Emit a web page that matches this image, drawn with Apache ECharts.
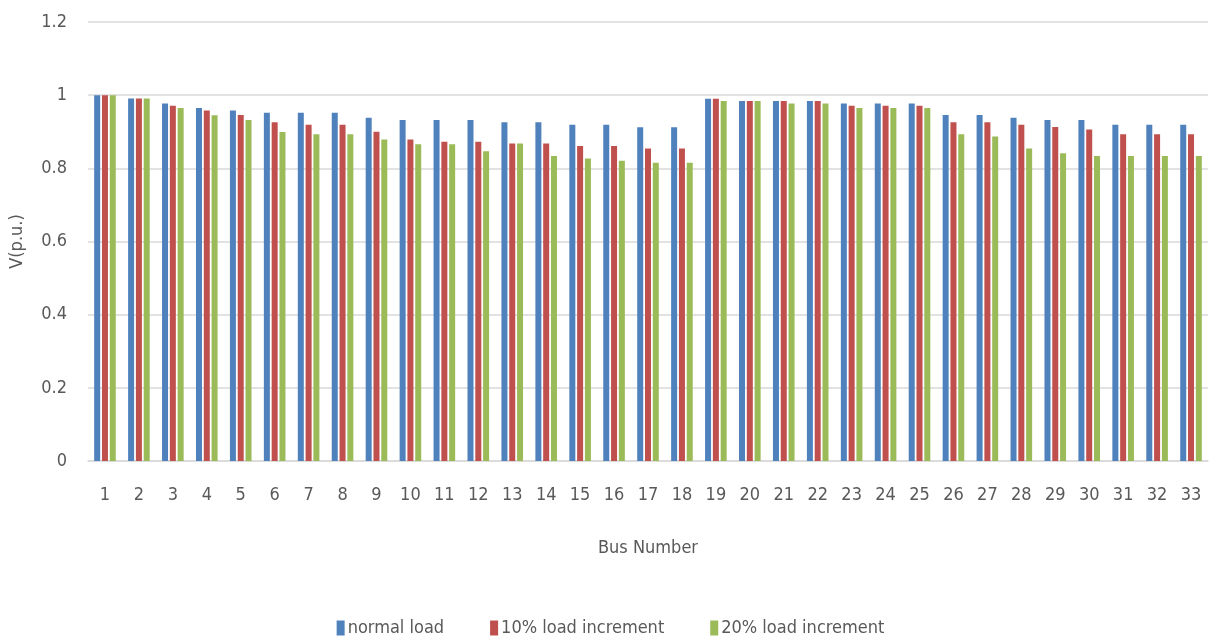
<!DOCTYPE html>
<html><head><meta charset="utf-8">
<script src="https://cdn.jsdelivr.net/npm/echarts@6/dist/echarts.min.js"></script>
<style>html,body{margin:0;padding:0;background:#fff}#c{width:1221px;height:644px}</style>
</head><body><div id="c"></div>
<script>
const categories = ['1','2','3','4','5','6','7','8','9','10','11','12','13','14','15','16','17','18','19','20','21','22','23','24','25','26','27','28','29','30','31','32','33'];
const normalLoad = [1.000,0.991,0.977,0.965,0.958,0.952,0.952,0.952,0.938,0.932,0.932,0.932,0.926,0.926,0.919,0.919,0.912,0.912,0.990,0.984,0.984,0.984,0.977,0.977,0.977,0.946,0.946,0.938,0.932,0.932,0.919,0.919,0.919];
const load10 = [1.000,0.991,0.971,0.958,0.946,0.926,0.919,0.919,0.900,0.879,0.873,0.873,0.868,0.868,0.861,0.861,0.854,0.854,0.990,0.984,0.984,0.984,0.971,0.971,0.971,0.926,0.926,0.919,0.913,0.906,0.893,0.893,0.893];
const load20 = [1.000,0.991,0.965,0.945,0.932,0.899,0.893,0.893,0.879,0.866,0.866,0.847,0.868,0.834,0.827,0.821,0.815,0.815,0.984,0.984,0.977,0.977,0.965,0.965,0.965,0.893,0.887,0.854,0.841,0.834,0.834,0.834,0.834];
const seriesNames = ['normal load','10% load increment','20% load increment'];
const yTicks = [0,0.2,0.4,0.6,0.8,1,1.2];

const font = "'Liberation Sans Narrow','DejaVu Sans Condensed','Open Sans',sans-serif";
const colors = ['#4f81bd','#c0504d','#9bbb59'];
const chart = echarts.init(document.getElementById('c'));
const mk = (name, data, i) => ({
  name, type:'bar', data, barWidth:6, barGap:'30%',
  itemStyle:{color:colors[i]}
});
chart.setOption({
  animation:false,
  textStyle:{fontFamily:font},
  grid:{left:86,right:13,top:22,bottom:183,containLabel:false},
  legend:{
    bottom:2, left:'center', itemWidth:8, itemHeight:15, itemGap:46,
    icon:'rect',
    textStyle:{fontFamily:font,fontSize:18,color:'#595959',padding:[0,0,0,-2]},
    data:seriesNames
  },
  xAxis:{
    type:'category', data:categories,
    name:'Bus Number', nameLocation:'middle', nameGap:78,
    nameTextStyle:{fontFamily:font,fontSize:18,color:'#595959'},
    axisLine:{lineStyle:{color:'#d9d9d9',width:1.5}},
    axisTick:{show:false},
    axisLabel:{fontFamily:font,fontSize:18,color:'#595959',margin:25,interval:0}
  },
  yAxis:{
    type:'value', min:0, max:1.2, interval:0.2,
    name:'V(p.u.)', nameLocation:'middle', nameGap:62, nameRotate:90,
    nameTextStyle:{fontFamily:font,fontSize:18,color:'#595959'},
    axisLine:{show:false}, axisTick:{show:false},
    splitLine:{lineStyle:{color:'#d9d9d9',width:1.5}},
    axisLabel:{fontFamily:font,fontSize:18,color:'#595959',margin:21,
      formatter:v=>{const t=yTicks.find(x=>Math.abs(x-v)<1e-9);return String(t!==undefined?t:v);}}
  },
  series:[mk(seriesNames[0],normalLoad,0),mk(seriesNames[1],load10,1),mk(seriesNames[2],load20,2)]
});
</script></body></html>
